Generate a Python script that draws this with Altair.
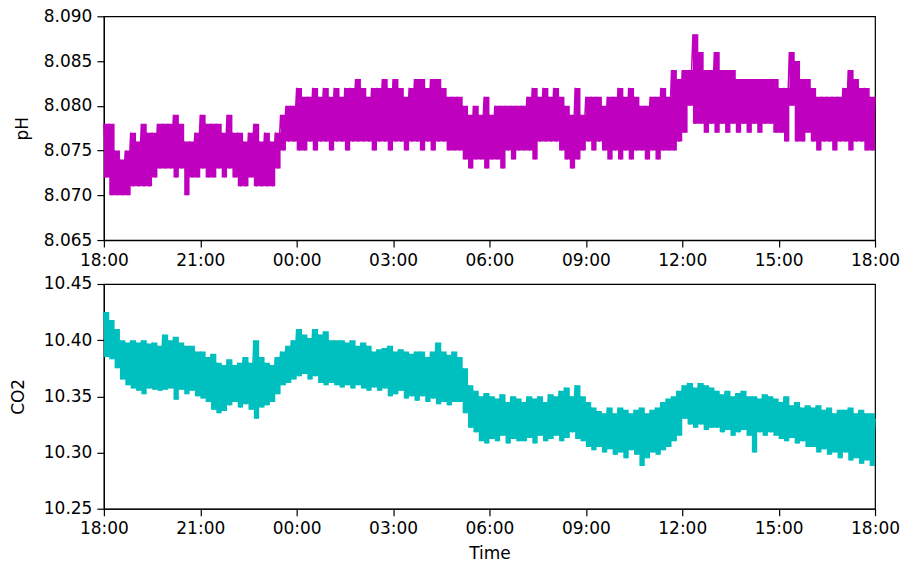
import altair as alt
import pandas as pd

# Logger readings, one high/low pair per 10-minute slot from 18:00 to 18:00
# (six slots per row = one hour), plus the closing reading.
ph_high = [
    8.078, 8.078, 8.075, 8.074, 8.075, 8.077,   # 18:00
    8.076, 8.078, 8.077, 8.077, 8.078, 8.078,   # 19:00
    8.078, 8.079, 8.078, 8.076, 8.076, 8.077,   # 20:00
    8.079, 8.078, 8.078, 8.078, 8.077, 8.079,   # 21:00
    8.077, 8.077, 8.076, 8.077, 8.078, 8.076,   # 22:00
    8.077, 8.076, 8.077, 8.079, 8.080, 8.080,   # 23:00
    8.082, 8.081, 8.081, 8.082, 8.081, 8.082,   # 00:00
    8.081, 8.082, 8.081, 8.082, 8.082, 8.083,   # 01:00
    8.082, 8.081, 8.082, 8.082, 8.083, 8.082,   # 02:00
    8.083, 8.082, 8.081, 8.082, 8.083, 8.083,   # 03:00
    8.082, 8.083, 8.083, 8.082, 8.081, 8.081,   # 04:00
    8.081, 8.080, 8.079, 8.080, 8.079, 8.081,   # 05:00
    8.079, 8.080, 8.080, 8.080, 8.080, 8.080,   # 06:00
    8.080, 8.081, 8.082, 8.081, 8.082, 8.081,   # 07:00
    8.082, 8.081, 8.080, 8.079, 8.082, 8.079,   # 08:00
    8.081, 8.081, 8.081, 8.080, 8.081, 8.081,   # 09:00
    8.082, 8.081, 8.082, 8.081, 8.080, 8.080,   # 10:00
    8.081, 8.081, 8.082, 8.081, 8.084, 8.083,   # 11:00
    8.084, 8.084, 8.088, 8.086, 8.084, 8.084,   # 12:00
    8.086, 8.084, 8.084, 8.084, 8.083, 8.083,   # 13:00
    8.083, 8.083, 8.083, 8.083, 8.083, 8.083,   # 14:00
    8.082, 8.082, 8.086, 8.085, 8.083, 8.083,   # 15:00
    8.082, 8.081, 8.081, 8.081, 8.081, 8.081,   # 16:00
    8.082, 8.084, 8.083, 8.082, 8.082, 8.081,   # 17:00
    8.081,
]
ph_low = [
    8.072, 8.070, 8.070, 8.070, 8.070, 8.071,
    8.071, 8.071, 8.071, 8.072, 8.073, 8.073,
    8.073, 8.072, 8.073, 8.070, 8.072, 8.072,
    8.073, 8.072, 8.072, 8.073, 8.072, 8.073,
    8.072, 8.071, 8.071, 8.072, 8.071, 8.071,
    8.071, 8.071, 8.073, 8.075, 8.076, 8.076,
    8.075, 8.075, 8.076, 8.075, 8.076, 8.076,
    8.075, 8.076, 8.076, 8.075, 8.076, 8.076,
    8.076, 8.076, 8.075, 8.076, 8.076, 8.075,
    8.076, 8.076, 8.075, 8.076, 8.076, 8.075,
    8.076, 8.075, 8.076, 8.076, 8.075, 8.075,
    8.075, 8.074, 8.073, 8.074, 8.074, 8.073,
    8.074, 8.074, 8.073, 8.075, 8.074, 8.075,
    8.075, 8.075, 8.074, 8.076, 8.076, 8.076,
    8.076, 8.075, 8.074, 8.073, 8.074, 8.075,
    8.076, 8.075, 8.076, 8.075, 8.074, 8.075,
    8.074, 8.075, 8.074, 8.075, 8.075, 8.074,
    8.075, 8.074, 8.075, 8.075, 8.075, 8.076,
    8.077, 8.080, 8.078, 8.078, 8.077, 8.078,
    8.077, 8.078, 8.077, 8.078, 8.077, 8.078,
    8.077, 8.078, 8.077, 8.078, 8.078, 8.077,
    8.077, 8.076, 8.080, 8.076, 8.076, 8.077,
    8.076, 8.075, 8.076, 8.076, 8.075, 8.076,
    8.076, 8.075, 8.076, 8.076, 8.075, 8.075,
    8.076,
]
co2_high = [
    10.425, 10.418, 10.410, 10.400, 10.398, 10.400,
    10.398, 10.400, 10.397, 10.398, 10.395, 10.405,
    10.400, 10.403, 10.398, 10.395, 10.395, 10.390,
    10.390, 10.385, 10.388, 10.380, 10.378, 10.383,
    10.378, 10.380, 10.385, 10.380, 10.400, 10.385,
    10.380, 10.378, 10.385, 10.390, 10.395, 10.400,
    10.410, 10.405, 10.402, 10.410, 10.405, 10.408,
    10.400, 10.400, 10.400, 10.398, 10.400, 10.395,
    10.398, 10.395, 10.390, 10.392, 10.393, 10.395,
    10.390, 10.392, 10.390, 10.388, 10.390, 10.390,
    10.385, 10.390, 10.398, 10.390, 10.387, 10.390,
    10.385, 10.375, 10.360, 10.355, 10.350, 10.353,
    10.350, 10.348, 10.352, 10.345, 10.350, 10.348,
    10.345, 10.350, 10.348, 10.350, 10.345, 10.352,
    10.350, 10.355, 10.358, 10.350, 10.360, 10.350,
    10.345, 10.340, 10.337, 10.335, 10.340, 10.335,
    10.340, 10.338, 10.335, 10.338, 10.340, 10.335,
    10.338, 10.340, 10.345, 10.348, 10.350, 10.355,
    10.360, 10.362, 10.358, 10.362, 10.360, 10.358,
    10.355, 10.352, 10.355, 10.350, 10.353, 10.355,
    10.350, 10.350, 10.348, 10.352, 10.350, 10.348,
    10.345, 10.350, 10.342, 10.345, 10.340, 10.342,
    10.340, 10.342, 10.338, 10.340, 10.335, 10.338,
    10.338, 10.340, 10.335, 10.338, 10.335, 10.335,
    10.330,
]
co2_low = [
    10.385, 10.383, 10.375, 10.365, 10.360, 10.357,
    10.355, 10.352, 10.357, 10.356, 10.355, 10.356,
    10.357, 10.347, 10.356, 10.352, 10.355, 10.350,
    10.348, 10.345, 10.338, 10.335, 10.337, 10.342,
    10.345, 10.340, 10.343, 10.338, 10.330, 10.340,
    10.342, 10.345, 10.352, 10.360, 10.362, 10.365,
    10.368, 10.370, 10.365, 10.368, 10.362, 10.360,
    10.362, 10.360, 10.358, 10.360, 10.357, 10.360,
    10.357, 10.355, 10.358, 10.355, 10.357, 10.350,
    10.352, 10.355, 10.348, 10.350, 10.346, 10.350,
    10.345, 10.348, 10.343, 10.345, 10.342, 10.345,
    10.345, 10.335, 10.322, 10.318, 10.310, 10.308,
    10.312, 10.310, 10.315, 10.308, 10.312, 10.310,
    10.310, 10.313, 10.308, 10.315, 10.310, 10.312,
    10.315, 10.310, 10.313, 10.318, 10.312, 10.310,
    10.305, 10.302, 10.305, 10.300, 10.303, 10.298,
    10.300, 10.295, 10.302, 10.298, 10.288, 10.295,
    10.300, 10.298, 10.302, 10.305, 10.310, 10.315,
    10.330, 10.325, 10.322, 10.325, 10.320, 10.322,
    10.322, 10.318, 10.320, 10.315, 10.318, 10.320,
    10.315, 10.300, 10.318, 10.315, 10.318, 10.315,
    10.312, 10.310, 10.313, 10.308, 10.310, 10.305,
    10.305, 10.300, 10.303, 10.298, 10.300, 10.295,
    10.300, 10.293, 10.295, 10.290, 10.293, 10.288,
    10.283,
]

tick_hours = [0, 3, 6, 9, 12, 15, 18, 21, 24]   # hours after 18:00
ph_ticks = [8.065, 8.070, 8.075, 8.080, 8.085, 8.090]
co2_ticks = [10.25, 10.30, 10.35, 10.40, 10.45]


def slots(high, low):
    """One row per 10-minute slot with its high and low reading."""
    n = len(high)
    return pd.DataFrame({
        "hours": [i / 6 for i in range(n)],
        "high": high,
        "low": low,
    })


def trace(high, low):
    """Interleave highs and lows 5 minutes apart to draw the sensor noise."""
    hours, values = [], []
    n = len(high) - 1
    for i in range(n):
        hours += [i / 6, i / 6 + 1 / 12]
        values += [high[i], low[i]]
    hours.append(n / 6)
    values.append(high[n])
    return pd.DataFrame({"hours": hours, "value": values})


clock_label = (
    "(((datum.value + 18) % 24) < 10 ? '0' : '') + ((datum.value + 18) % 24) + ':00'"
)


def panel(high, low, color, title, ticks, fmt, x_title, height, title_pad):
    x = alt.X(
        "hours:Q",
        axis=alt.Axis(values=tick_hours, labelExpr=clock_label, title=x_title),
        scale=alt.Scale(domain=[0, 24], nice=False, zero=False),
    )
    y_scale = alt.Scale(domain=[ticks[0], ticks[-1]], nice=False, zero=False)
    y_axis = alt.Axis(values=ticks, format=fmt, title=title, titlePadding=title_pad)

    band = (
        alt.Chart(slots(high, low))
        .mark_area(color=color, opacity=1, interpolate="step-after")
        .encode(x=x, y=alt.Y("high:Q", axis=y_axis, scale=y_scale), y2="low:Q")
    )
    noise = (
        alt.Chart(trace(high, low))
        .mark_line(color=color, strokeWidth=1.5)
        .encode(x=x, y=alt.Y("value:Q", axis=y_axis, scale=y_scale))
    )
    return alt.layer(band, noise).properties(width=772, height=height)


top = panel(ph_high, ph_low, "#bf00bf", "pH", ph_ticks, ".3f", "", 224, 12)
bottom = panel(co2_high, co2_low, "#00bfbf", "CO2", co2_ticks, ".2f", "Time", 225, 16)

chart = (
    alt.vconcat(top, bottom, spacing=5)
    .properties(padding={"left": 8, "top": 6, "right": 0, "bottom": 0})
    .configure_view(stroke="black", strokeWidth=1.2)
    .configure_axis(
        grid=False,
        domainColor="black",
        domainWidth=1.2,
        tickColor="black",
        tickWidth=1.2,
        tickSize=7,
        labelFont="DejaVu Sans",
        labelFontSize=17,
        labelColor="black",
        labelPadding=5,
        labelOverlap=False,
        labelFlush=False,
        titleFont="DejaVu Sans",
        titleFontSize=17,
        titleFontWeight="normal",
        titleColor="black",
        titlePadding=6,
    )
    .configure_axisX(titlePadding=9)
)

chart.save("out.html", embed_options={"renderer": "svg", "actions": False})
